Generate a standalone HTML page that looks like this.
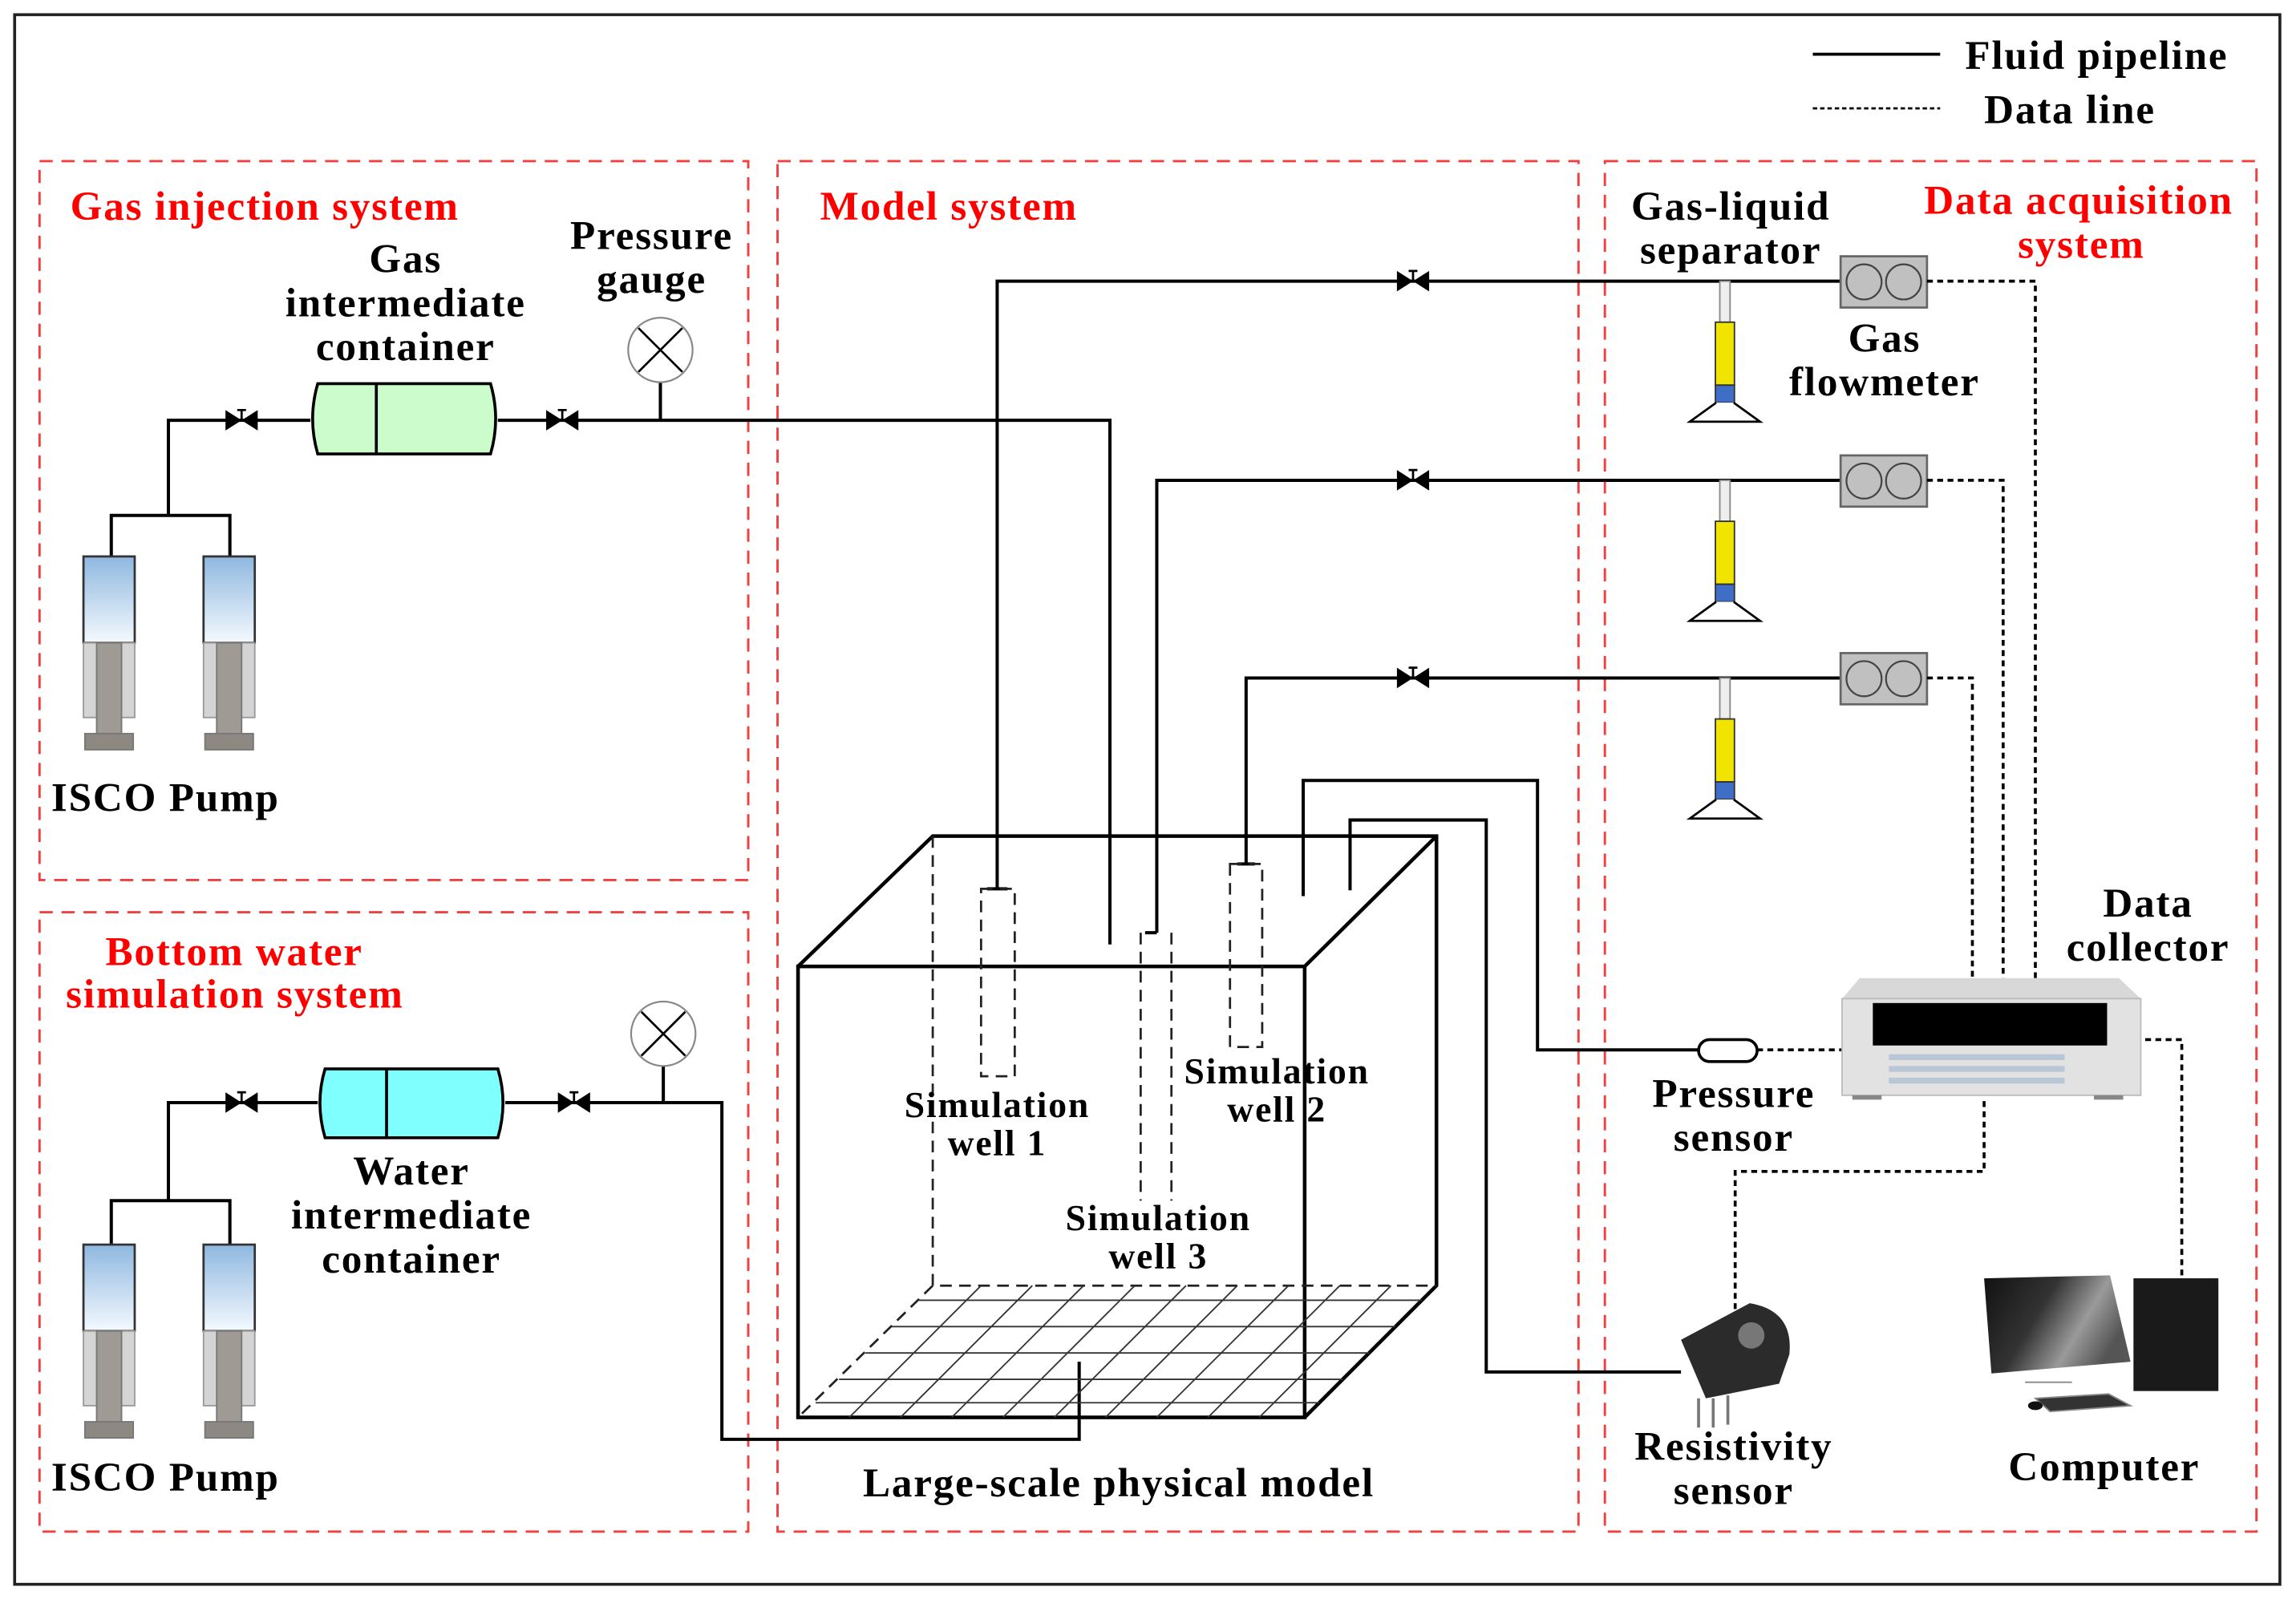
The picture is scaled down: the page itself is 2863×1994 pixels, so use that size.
<!DOCTYPE html>
<html><head><meta charset="utf-8"><style>
html,body{margin:0;padding:0;background:#fff;}
svg{display:block;}
text{font-family:"Liberation Serif",serif;font-weight:bold;letter-spacing:1px;}
</style></head><body>
<svg width="2863" height="1994" viewBox="0 0 1568 1092" xmlns="http://www.w3.org/2000/svg">
<defs>
<linearGradient id="bl" x1="0" y1="0" x2="0" y2="1"><stop offset="0" stop-color="#8fb8e0"/><stop offset="1" stop-color="#f4f9fe"/></linearGradient>
<linearGradient id="mon" x1="0" y1="0" x2="1" y2="0.4"><stop offset="0" stop-color="#111"/><stop offset="0.45" stop-color="#333"/><stop offset="0.75" stop-color="#9a9a9a"/><stop offset="1" stop-color="#555"/></linearGradient>
<g id="pump">
<rect x="0" y="0" width="35" height="59" fill="url(#bl)" stroke="#333" stroke-width="1.5"/>
<rect x="0" y="59" width="35" height="51" fill="#d4d4d4" stroke="#999" stroke-width="1"/>
<rect x="9" y="59" width="17" height="63" fill="#a09a94" stroke="#777" stroke-width="1"/>
<rect x="1" y="121" width="33" height="11" fill="#8e8882" stroke="#777" stroke-width="1"/>
</g>
<g id="valve"><path d="M-11,-7 L0,0 L-11,7 Z M11,-7 L0,0 L11,7 Z" fill="#000"/><path d="M0,0 V-7 M-3,-7 H3" stroke="#000" stroke-width="1.5"/></g>
<g id="sep">
<rect x="-3.5" y="0" width="7" height="28" fill="#eee" stroke="#888" stroke-width="1"/>
<rect x="-6.5" y="28" width="13" height="43" fill="#f0e400" stroke="#333" stroke-width="1"/>
<rect x="-6.5" y="71" width="13" height="12" fill="#3f6ec6" stroke="#333" stroke-width="1"/>
<path d="M-6,83 L-24,96 L24,96 L6,83" fill="#fff" stroke="#000" stroke-width="1.5"/>
</g>
<g id="fm"><rect x="0" y="0" width="59" height="35" fill="#c0c0c0" stroke="#666" stroke-width="1.5"/><circle cx="16" cy="17.5" r="12" fill="none" stroke="#444" stroke-width="1.2"/><circle cx="43" cy="17.5" r="12" fill="none" stroke="#444" stroke-width="1.2"/></g>
<g id="gauge"><circle cx="0" cy="0" r="22" fill="#fff" stroke="#888" stroke-width="1.2"/><path d="M-15,-15 L15,15 M15,-15 L-15,15" stroke="#000" stroke-width="1.5"/></g>
</defs>
<rect x="10" y="10" width="1547" height="1072" fill="none" stroke="#222" stroke-width="2"/>
<g fill="none" stroke="#f04040" stroke-width="1.6" stroke-dasharray="9,6">
<rect x="27" y="110" width="484" height="491"/>
<rect x="27" y="623" width="484" height="423"/>
<rect x="531" y="110" width="547" height="936"/>
<rect x="1096" y="110" width="445" height="936"/>
</g>
<!-- legend -->
<line x1="1238" y1="37" x2="1325" y2="37" stroke="#000" stroke-width="2"/>
<line x1="1238" y1="74" x2="1325" y2="74" stroke="#000" stroke-width="1.5" stroke-dasharray="3,2"/>
<text x="1342" y="47" font-size="28">Fluid pipeline</text>
<text x="1355" y="84" font-size="28">Data line</text>
<!-- titles -->
<g fill="#f00" font-size="28">
<text x="48" y="150">Gas injection system</text>
<text x="560" y="150">Model system</text>
<text x="1314" y="146">Data acquisition</text>
<text x="1378" y="176">system</text>
<text x="72" y="659">Bottom water</text>
<text x="45" y="688">simulation system</text>
</g>
<!-- pipes -->
<g fill="none" stroke="#000" stroke-width="2.2">
<path d="M76,380 V352 H157 V380 M115,352 V287 H212 M340,287 H758 V645"/>
<path d="M76,850 V820 H157 V850 M115,820 V753 H217 M345,753 H493 V983 H737 V930"/>
<path d="M451,261 V287 M453,728 V753"/>
<path d="M681,607 V192 H1257 M674,607 H688"/>
<path d="M790,637 V328 H1257 M782,637 H790"/>
<path d="M851,590 V463 H1257 M845,590 H857"/>
<path d="M890,612 V533 H1050 V717 H1160"/>
<path d="M922,608 V560 H1015 V937 H1148"/>
</g>
<use href="#valve" x="165" y="287"/><use href="#valve" x="384" y="287"/>
<use href="#valve" x="165" y="753"/><use href="#valve" x="392" y="753"/>
<use href="#valve" x="965" y="192"/><use href="#valve" x="965" y="328"/><use href="#valve" x="965" y="463"/>
<use href="#gauge" x="451" y="239"/><use href="#gauge" x="453" y="706"/>
<!-- containers -->
<path d="M217,262 H335 Q342,286 335,310 H217 Q210,286 217,262 Z" fill="#ccfccc" stroke="#000" stroke-width="2"/>
<line x1="257" y1="262" x2="257" y2="310" stroke="#000" stroke-width="2"/>
<path d="M222,730 H340 Q347,753 340,777 H222 Q215,753 222,730 Z" fill="#80ffff" stroke="#000" stroke-width="2"/>
<line x1="264" y1="730" x2="264" y2="777" stroke="#000" stroke-width="2"/>
<!-- pumps -->
<use href="#pump" x="57" y="380"/><use href="#pump" x="139" y="380"/>
<use href="#pump" x="57" y="850"/><use href="#pump" x="139" y="850"/>
<text x="35" y="554" font-size="28">ISCO Pump</text>
<text x="35" y="1018" font-size="28">ISCO Pump</text>
<g font-size="28" text-anchor="middle">
<text x="277" y="186">Gas</text><text x="277" y="216">intermediate</text><text x="277" y="246">container</text>
<text x="445" y="170">Pressure</text><text x="445" y="200">gauge</text>
<text x="281" y="809">Water</text><text x="281" y="839">intermediate</text><text x="281" y="869">container</text>
</g>
<!-- box -->
<g fill="none" stroke="#000" stroke-width="2.5">
<rect x="545" y="660" width="346" height="308"/>
<path d="M545,660 L637,571 H981 V878 L891,968 M891,660 L981,571"/>
</g>
<g fill="none" stroke="#222" stroke-width="1.5" stroke-dasharray="8,5">
<path d="M637,571 V878 H981 M637,878 L545,968"/>
<rect x="670" y="607" width="23" height="128"/>
<rect x="840" y="590" width="22" height="125"/>
<path d="M779,637 V820 M800,637 V820"/>
</g>
<g stroke="#333" stroke-width="1">
<line x1="627" y1="888" x2="971" y2="888"/><line x1="609" y1="906" x2="953" y2="906"/><line x1="591" y1="924" x2="935" y2="924"/><line x1="573" y1="942" x2="917" y2="942"/><line x1="557" y1="958" x2="901" y2="958"/>
<line x1="670" y1="878" x2="580" y2="968"/><line x1="705" y1="878" x2="615" y2="968"/><line x1="740" y1="878" x2="650" y2="968"/><line x1="775" y1="878" x2="685" y2="968"/><line x1="810" y1="878" x2="720" y2="968"/><line x1="845" y1="878" x2="755" y2="968"/><line x1="880" y1="878" x2="790" y2="968"/><line x1="915" y1="878" x2="825" y2="968"/><line x1="950" y1="878" x2="860" y2="968"/>
</g>
<g font-size="25" text-anchor="middle">
<text x="681" y="763">Simulation</text><text x="681" y="789">well 1</text>
<text x="872" y="740">Simulation</text><text x="872" y="766">well 2</text>
<text x="791" y="840">Simulation</text><text x="791" y="866">well 3</text>
</g>
<text x="764" y="1022" font-size="28" text-anchor="middle">Large-scale physical model</text>
<!-- separators and flowmeters -->
<use href="#sep" x="1178" y="192"/><use href="#sep" x="1178" y="328"/><use href="#sep" x="1178" y="463"/>
<use href="#fm" x="1257" y="175"/><use href="#fm" x="1257" y="311"/><use href="#fm" x="1257" y="446"/>
<g font-size="28" text-anchor="middle">
<text x="1182" y="150">Gas-liquid</text><text x="1182" y="180">separator</text>
<text x="1287" y="240">Gas</text><text x="1287" y="270">flowmeter</text>
<text x="1467" y="626">Data</text><text x="1467" y="656">collector</text>
<text x="1184" y="756">Pressure</text><text x="1184" y="786">sensor</text>
<text x="1184" y="997">Resistivity</text><text x="1184" y="1027">sensor</text>
<text x="1437" y="1011">Computer</text>
</g>
<!-- data lines -->
<g fill="none" stroke="#000" stroke-width="2" stroke-dasharray="4,3">
<path d="M1316,192 H1390 V670 M1316,328 H1368 V670 M1316,463 H1347 V670"/>
<path d="M1200,717 H1258 M1458,710 H1490 V878 M1355,752 V800 H1185 V900"/>
</g>
<!-- data collector -->
<path d="M1270,668 H1447 L1462,682 H1258 Z" fill="#d8d8d8"/>
<rect x="1258" y="682" width="204" height="66" fill="#e2e2e2" stroke="#bbb" stroke-width="1"/>
<rect x="1279" y="685" width="160" height="29" fill="#000"/>
<g fill="#b8c6d6"><rect x="1290" y="720" width="120" height="4"/><rect x="1290" y="728" width="120" height="4"/><rect x="1290" y="736" width="120" height="4"/></g>
<rect x="1265" y="748" width="20" height="3" fill="#888"/><rect x="1430" y="748" width="20" height="3" fill="#888"/>
<!-- pressure sensor -->
<rect x="1160" y="710" width="40" height="15" rx="7.5" fill="#fff" stroke="#000" stroke-width="2"/>
<!-- resistivity sensor -->
<path d="M1148,915 L1195,890 Q1225,895 1222,925 L1215,945 L1165,955 Z" fill="#2b2b2b"/>
<circle cx="1196" cy="912" r="9" fill="#777"/>
<path d="M1160,955 V975 M1170,955 V975 M1180,953 V973" stroke="#777" stroke-width="2"/>
<!-- computer -->
<path d="M1355,873 L1441,871 L1455,930 L1360,938 Z" fill="url(#mon)"/>
<rect x="1457" y="873" width="58" height="77" fill="#1a1a1a"/>
<path d="M1383,944 H1415 M1390,955 L1440,952 L1455,960 L1400,964 Z" stroke="#888" fill="#333"/>
<ellipse cx="1390" cy="960" rx="5" ry="3" fill="#111"/>
</svg>
</body></html>
